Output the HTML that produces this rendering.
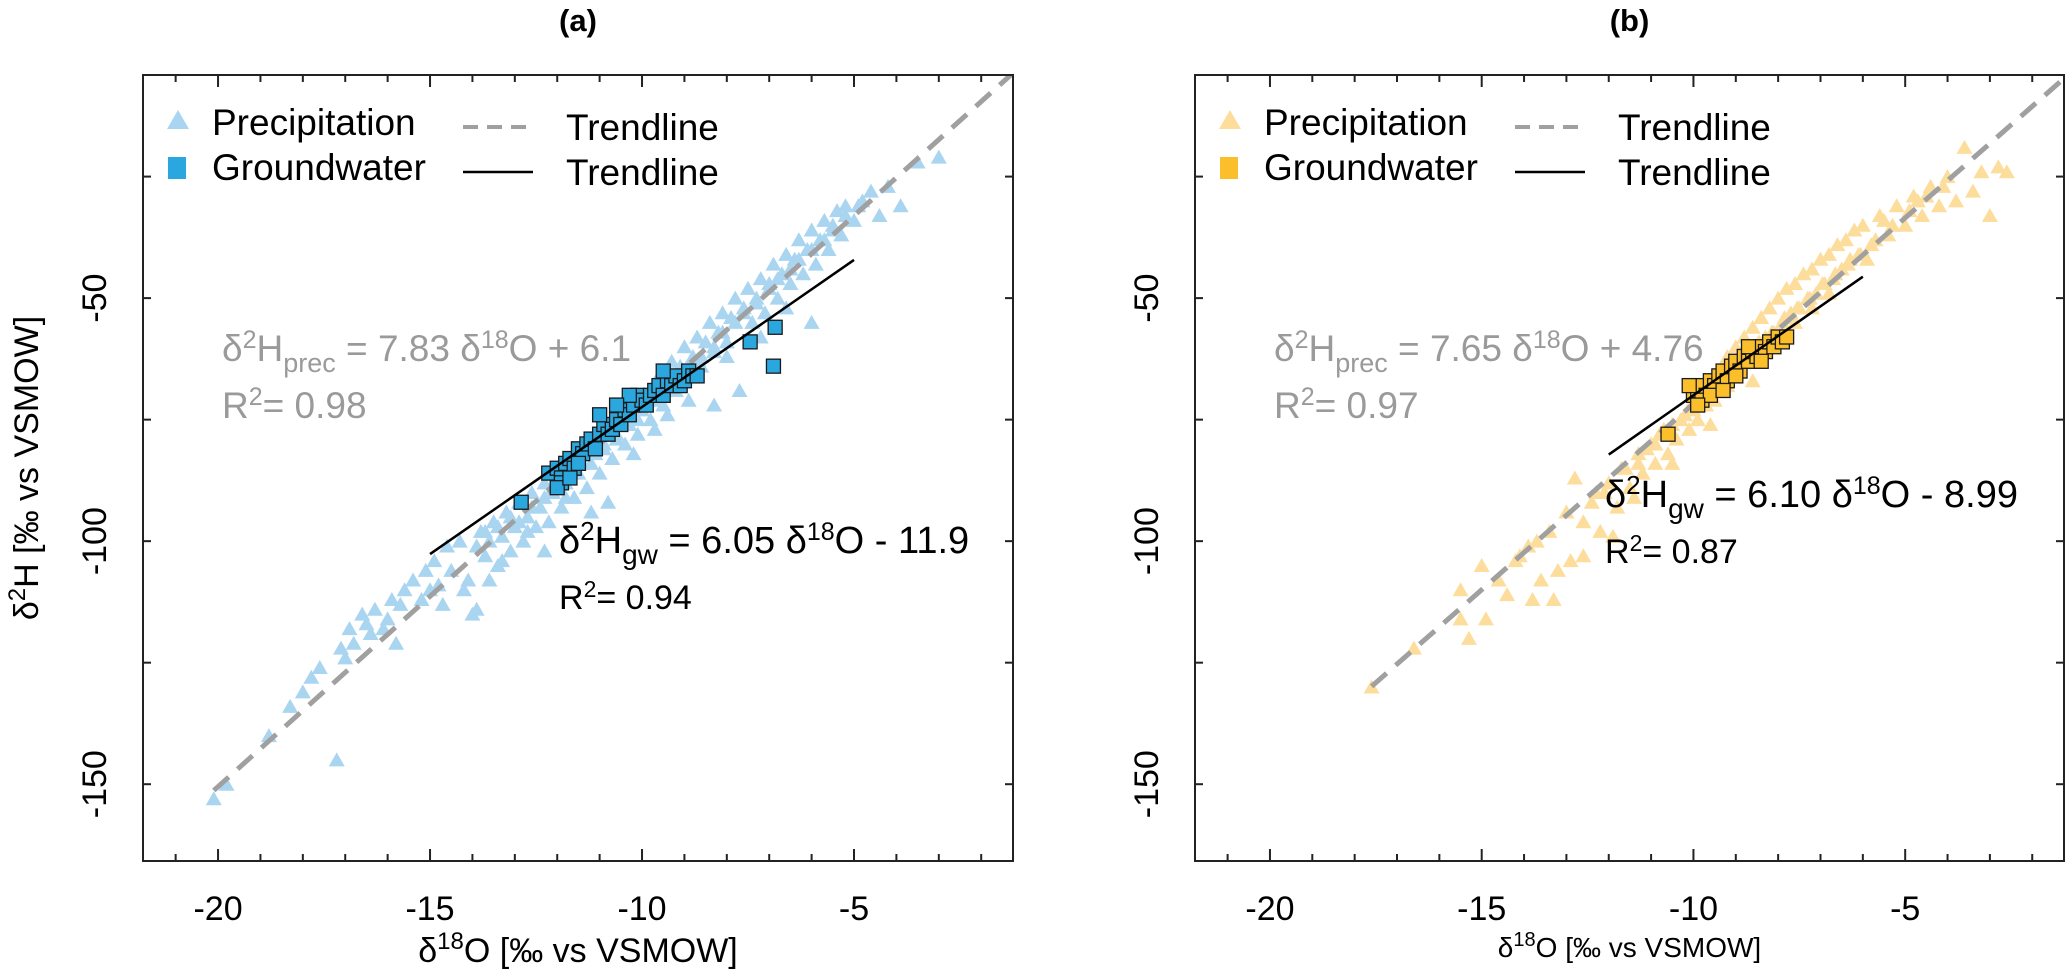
<!DOCTYPE html>
<html><head><meta charset="utf-8"><style>
html,body{margin:0;padding:0;background:#fff;}
svg{display:block;font-family:"Liberation Sans",Arial,sans-serif;}
</style></head><body>
<svg id="chart" width="2067" height="980" viewBox="0 0 2067 980" xmlns="http://www.w3.org/2000/svg"></svg>
<script>
// ---- data (panel a) ----
const precAX=[-20.1,-19.8,-18.8,-18.3,-18.0,-17.8,-17.6,-17.2,-17.1,-16.9,-16.8,-16.6,-16.5,-16.3,-16.1,-16.0,-15.8,-15.7,-15.6,-15.4,-15.2,-15.1,-14.9,-14.8,-14.6,-14.5,-14.3,-14.2,-14.0,-13.9,-13.8,-13.7,-13.6,-13.5,-13.4,-13.3,-13.2,-13.1,-13.0,-12.9,-12.8,-12.7,-12.6,-12.5,-12.4,-12.3,-12.2,-12.1,-12.0,-11.9,-11.8,-11.7,-11.6,-11.5,-11.4,-11.3,-11.2,-11.1,-11.0,-10.9,-10.8,-10.7,-10.6,-10.5,-10.4,-10.3,-10.2,-10.1,-10.0,-9.9,-9.8,-9.7,-9.6,-9.5,-9.4,-9.3,-9.2,-9.1,-9.0,-8.9,-8.8,-8.7,-8.6,-8.5,-8.4,-8.3,-8.2,-8.1,-8.0,-7.9,-7.8,-7.7,-7.6,-7.5,-7.4,-7.3,-7.2,-7.1,-7.0,-6.9,-6.8,-6.7,-6.6,-6.5,-6.4,-6.3,-6.2,-6.1,-6.0,-5.9,-5.8,-5.7,-5.6,-5.5,-5.4,-5.3,-5.2,-5.0,-4.8,-4.6,-4.4,-4.2,-3.9,-3.5,-3.0,-8.3,-9.4,-10.8,-12.3,-11.2,-6.0,-13.6,-14.7,
 -13.9,-13.7,-13.4,-13.1,-12.9,-12.6,-12.3,-12.1,-11.9,-11.6,-11.4,-11.1,-10.9,-10.6,-10.4,-10.1,-9.9,-9.6,-9.3,-9.1,-8.8,-8.6,-8.3,-8.1,-7.8,-7.6,-7.3,-7.0,-6.8,-6.5,-6.3,-6.0,-5.7,-5.5,-5.2,-4.9,-10.2,-9.7,-8.9,-8.0,-7.2,-6.6,-11.8,-12.7,-13.3,-14.1,-15.0,-16.4,-17.0,-15.9];
const precAY=[-153,-150,-140,-134,-131,-128,-126,-145,-122,-118,-121,-115,-117,-114,-118,-116,-121,-113,-110,-108,-112,-106,-104,-109,-101,-106,-100,-110,-115,-114,-98,-103,-100,-96,-105,-99,-94,-102,-97,-92,-100,-95,-90,-97,-93,-88,-96,-90,-86,-93,-88,-84,-91,-86,-82,-89,-84,-80,-86,-81,-77,-83,-78,-75,-80,-76,-72,-78,-73,-70,-75,-70,-66,-72,-67,-63,-69,-64,-60,-66,-62,-58,-64,-59,-55,-61,-57,-53,-59,-54,-50,-69,-52,-48,-55,-50,-46,-53,-47,-43,-50,-45,-41,-47,-42,-38,-45,-40,-36,-43,-38,-34,-40,-35,-32,-37,-31,-34,-30,-28,-33,-27,-31,-22,-21,-72,-74,-92,-102,-94,-55,-108,-113,
 -101,-98,-97,-95,-96,-93,-91,-89,-87,-86,-84,-82,-80,-79,-76,-75,-72,-71,-68,-66,-63,-62,-60,-57,-55,-53,-51,-48,-46,-44,-42,-40,-38,-36,-33,-31,-82,-77,-71,-62,-58,-52,-91,-98,-104,-108,-110,-119,-124,-112];
const gwAX=[-12.2,-12.0,-11.9,-11.8,-11.9,-11.7,-11.6,-11.5,-11.4,-11.3,-11.5,-11.2,-11.1,-11.0,-10.9,-10.8,-10.7,-10.6,-10.5,-10.4,-10.3,-10.2,-10.1,-10.0,-9.9,-9.8,-9.7,-9.6,-9.5,-9.4,-9.3,-9.2,-9.1,-9.0,-8.9,-8.8,-10.3,-10.6,-11.0,-12.0,-11.7,-9.5,-8.7,-7.45,-6.86,-6.9,-12.85];
const gwAY=[-86,-85,-87,-84,-88,-83,-85,-81,-82,-80,-84,-79,-81,-78,-76,-78,-77,-75,-76,-73,-74,-72,-70,-71,-72,-70,-69,-68,-70,-67,-68,-66,-68,-67,-65,-66,-70,-72,-74,-89,-87,-65,-66,-59,-56,-64,-92];
// ---- data (panel b) ----
const precBX=[-17.6,-16.6,-15.3,-15.5,-14.9,-15.0,-15.5,-14.6,-14.2,-13.9,-13.8,-13.6,-13.2,-12.9,-12.6,-13.4,-13.0,-12.6,-12.2,-11.9,-12.4,-12.3,-12.0,-11.8,-11.6,-11.5,-11.3,-11.2,-11.0,-10.9,-10.8,-10.6,-10.5,-10.4,-10.2,-10.1,-10.0,-9.9,-9.8,-9.7,-9.6,-9.5,-9.4,-9.3,-9.2,-9.1,-9.0,-8.9,-8.8,-8.7,-8.6,-8.5,-8.4,-8.3,-8.2,-8.1,-8.0,-7.9,-7.8,-7.7,-7.6,-7.5,-7.4,-7.3,-7.2,-7.1,-7.0,-6.9,-6.8,-6.7,-6.6,-6.5,-6.4,-6.3,-6.2,-6.1,-6.0,-5.8,-5.6,-5.4,-5.2,-5.0,-4.8,-4.6,-4.4,-4.2,-4.0,-3.8,-3.6,-3.4,-3.2,-3.0,-2.8,-2.6,-10.5,-11.4,-9.6,-8.6,-7.2,-12.8,-13.3,-14.4,
 -11.7,-11.1,-10.7,-10.3,-9.95,-9.65,-9.35,-9.05,-8.75,-8.45,-8.15,-7.85,-7.55,-7.25,-6.95,-6.65,-6.35,-6.05,-5.7,-5.3,-4.9,-4.5,-4.1,-10.9,-10.0,-9.2,-8.4,-7.6,-6.8,-5.9,-12.1,-11.3,-13.7,-14.1,-5.5,-4.7];
const precBY=[-130,-122,-120,-116,-116,-105,-110,-108,-104,-101,-112,-108,-106,-104,-103,-98,-94,-96,-98,-99,-92,-90,-88,-93,-85,-89,-82,-86,-80,-84,-78,-82,-76,-79,-74,-77,-71,-75,-69,-72,-67,-71,-65,-68,-62,-66,-60,-64,-58,-62,-56,-60,-54,-58,-52,-57,-50,-55,-48,-53,-47,-52,-45,-50,-44,-49,-42,-47,-41,-46,-39,-44,-38,-42,-36,-41,-35,-39,-33,-37,-31,-35,-29,-33,-27,-31,-25,-30,-19,-28,-24,-33,-23,-24,-84,-91,-76,-67,-52,-87,-112,-111,
 -85,-81,-77,-75,-72,-69,-67,-64,-62,-59,-57,-54,-52,-50,-47,-45,-43,-41,-38,-35,-32,-29,-27,-80,-73,-68,-61,-55,-49,-42,-90,-84,-100,-103,-34,-30];
const gwBX=[-10.6,-10.0,-9.9,-9.8,-9.7,-9.6,-9.5,-9.8,-9.4,-9.3,-9.2,-9.1,-9.0,-8.9,-8.8,-8.7,-8.6,-8.5,-8.4,-8.3,-8.2,-8.1,-8.0,-7.9,-7.8,-9.6,-9.3,-9.0,-8.7,-9.9,-10.1,-8.4];
const gwBY=[-78,-70,-69,-68,-70,-67,-68,-71,-66,-65,-67,-64,-63,-65,-62,-63,-61,-62,-60,-61,-59,-60,-58,-59,-58,-70,-69,-66,-60,-72,-68,-63];
// regression lines: [slope, intercept, xStart, xEnd]
const trendPrecA=[7.83,6.1,-20.1,-1.25];
const trendGwA=[6.05,-11.9,-15,-5];
const trendPrecB=[7.65,4.76,-17.6,-1.25];
const trendGwB=[6.10,-8.99,-12,-6];
const xTicks=[-20,-15,-10,-5];
const yTicks=[-50,-100,-150];

const NS="http://www.w3.org/2000/svg";
const svg=document.getElementById('chart');
const XMIN=-21.77,XMAX=-1.25,YMIN=-165.8,YMAX=-4.1;
const TOP=75,BOT=861;
function mk(tag,attrs,parent){const e=document.createElementNS(NS,tag);for(const k in attrs)e.setAttribute(k,attrs[k]);(parent||svg).appendChild(e);return e;}

function panel(id,L,R,precX,precY,gwX,gwY,tp,tg,cfg){
  const g=mk('g',{});
  
  
  const sx=v=>L+(v-XMIN)/(XMAX-XMIN)*(R-L);
  const sy=v=>BOT-(v-YMIN)/(YMAX-YMIN)*(BOT-TOP);
  const clip=mk('clipPath',{id:'clip'+id},g);
  mk('rect',{x:L,y:TOP,width:R-L,height:BOT-TOP},clip);
  const title=mk('text',{x:(L+R)/2,y:31,'text-anchor':'middle','font-size':31,'font-weight':'bold'},g);
  title.textContent='('+id+')';
  
  
  const pg=mk('g',{fill:cfg.precCol,'clip-path':'url(#clip'+id+')'},g);
  
  
  for(let i=0;i<precX.length;i++){const x=sx(precX[i]),y=sy(precY[i]);
    const t=mk('polygon',{points:`${x-8},${y+6.5} ${x+8},${y+6.5} ${x},${y-7.5}`},pg);
    
    }
  const dl=mk('line',{x1:sx(tp[2]),y1:sy(tp[0]*tp[2]+tp[1]),x2:sx(tp[3]),y2:sy(tp[0]*tp[3]+tp[1]),stroke:'#a0a0a0','stroke-width':5,'stroke-dasharray':'20 12','clip-path':'url(#clip'+id+')'},g);
  
  
  const gg=mk('g',{fill:cfg.gwCol,stroke:'#1a1a1a','stroke-width':1.3},g);
  
  
  for(let i=0;i<gwX.length;i++){const x=sx(gwX[i]),y=sy(gwY[i]);
    const s=mk('rect',{x:x-7,y:y-7,width:14,height:14},gg);
    
    }
  const sl=mk('line',{x1:sx(tg[2]),y1:sy(tg[0]*tg[2]+tg[1]),x2:sx(tg[3]),y2:sy(tg[0]*tg[3]+tg[1]),stroke:'#000','stroke-width':2.5},g);
  
  
  const box=mk('rect',{x:L,y:TOP,width:R-L,height:BOT-TOP,fill:'none',stroke:'#222','stroke-width':2},g);
  
  
  for(let v=-21;v<=-2;v++){const x=sx(v);const major=v%5===0;const len=major?12:7;
    mk('line',{x1:x,y1:BOT,x2:x,y2:BOT-len,stroke:'#222','stroke-width':2},g);
    mk('line',{x1:x,y1:TOP,x2:x,y2:TOP+len,stroke:'#222','stroke-width':2},g);}
  xTicks.forEach(v=>{const t=mk('text',{x:sx(v),y:920,'text-anchor':'middle','font-size':34},g);t.textContent=String(v);
    
    });
  for(let v=-25;v>=-150;v-=25){const y=sy(v);
    mk('line',{x1:L,y1:y,x2:L+8,y2:y,stroke:'#222','stroke-width':2},g);
    mk('line',{x1:R,y1:y,x2:R-8,y2:y,stroke:'#222','stroke-width':2},g);}
  yTicks.forEach(v=>{const t=mk('text',{x:0,y:0,'text-anchor':'middle','font-size':34,transform:`translate(${L-37},${sy(v)}) rotate(-90)`},g);t.textContent=String(v);
    
    });
  const xt=mk('text',{x:(L+R)/2,y:cfg.xtY,'text-anchor':'middle','font-size':cfg.xtSize},g);
  xt.innerHTML='δ<tspan baseline-shift="super" font-size="'+Math.round(cfg.xtSize*0.7)+'">18</tspan>O [‰ vs VSMOW]';
  
  
  if(cfg.ytitle){const yt=mk('text',{x:0,y:0,'text-anchor':'middle','font-size':34,transform:`translate(${L-105},${(TOP+BOT)/2}) rotate(-90)`},g);
    yt.innerHTML='δ<tspan baseline-shift="super" font-size="24">2</tspan>H [‰ vs VSMOW]';
    
    }
  const lg=mk('g',{},g);
  
  
  const o=L-143;
  mk('polygon',{points:`${o+167},${129} ${o+189},${129} ${o+178},${110}`,fill:cfg.precCol},lg);
  mk('rect',{x:o+168,y:157,width:18,height:22,fill:cfg.gwCol},lg);
  const t1=mk('text',{x:o+212,y:135,'font-size':37},lg);t1.textContent='Precipitation';
  
  
  const t2=mk('text',{x:o+212,y:180,'font-size':37},lg);t2.textContent='Groundwater';
  
  
  mk('line',{x1:o+463,y1:127,x2:o+530,y2:127,stroke:'#a0a0a0','stroke-width':4,'stroke-dasharray':'15 9'},lg);
  mk('line',{x1:o+463,y1:172,x2:o+533,y2:172,stroke:'#000','stroke-width':2.5},lg);
  const t3=mk('text',{x:o+566,y:140,'font-size':37},lg);t3.textContent='Trendline';
  
  
  const t4=mk('text',{x:o+566,y:185,'font-size':37},lg);t4.textContent='Trendline';
  
  
  const e1=mk('text',{x:o+222,y:361,'font-size':37,fill:'#9a9a9a'},g);
  e1.innerHTML='δ<tspan dy="-13" font-size="25">2</tspan><tspan dy="13">H</tspan><tspan dy="11" font-size="27">prec</tspan><tspan dy="-11"> = '+cfg.eqP+'</tspan>';
  
  
  const r1=mk('text',{x:o+222,y:418,'font-size':37,fill:'#9a9a9a'},g);
  r1.innerHTML='R<tspan dy="-13" font-size="25">2</tspan><tspan dy="13">= '+cfg.r2P+'</tspan>';
  
  
  const e2=mk('text',{x:cfg.eqGx,y:cfg.eqGy,'font-size':38,fill:'#000'},g);
  e2.innerHTML='δ<tspan dy="-13" font-size="26">2</tspan><tspan dy="13">H</tspan><tspan dy="11" font-size="28">gw</tspan><tspan dy="-11"> = '+cfg.eqG+'</tspan>';
  
  
  const r2=mk('text',{x:cfg.eqGx,y:cfg.eqGy+56,'font-size':34,fill:'#000'},g);
  r2.innerHTML='R<tspan dy="-12" font-size="23">2</tspan><tspan dy="12">= '+cfg.r2G+'</tspan>';
  
  
}
const O18='δ<tspan dy="-13" font-size="25">18</tspan><tspan dy="13">O';
panel('a',143,1013,precAX,precAY,gwAX,gwAY,trendPrecA,trendGwA,{precCol:'#a9d5f1',gwCol:'#2aa7df',xtY:962,xtSize:34,ytitle:true,
  eqP:'7.83 '+O18+' + 6.1</tspan>',r2P:'0.98',eqG:'6.05 '+O18+' - 11.9</tspan>',r2G:'0.94',eqGx:559,eqGy:553});
panel('b',1195,2064,precBX,precBY,gwBX,gwBY,trendPrecB,trendGwB,{precCol:'#fddd9c',gwCol:'#fbbf2b',xtY:957,xtSize:28,ytitle:false,
  eqP:'7.65 '+O18+' + 4.76</tspan>',r2P:'0.97',eqG:'6.10 '+O18+' - 8.99</tspan>',r2G:'0.87',eqGx:1605,eqGy:507});
</script>
</body></html>
